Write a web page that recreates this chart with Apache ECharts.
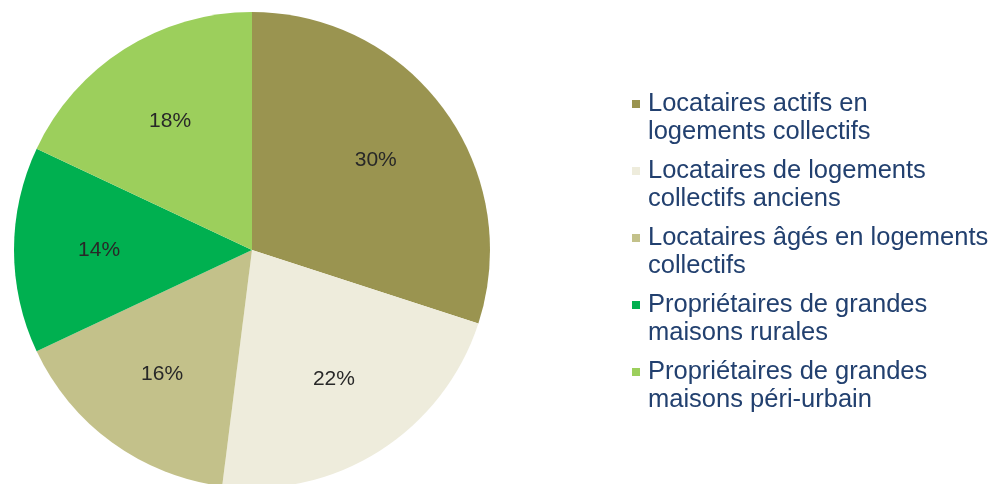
<!DOCTYPE html>
<html>
<head>
<meta charset="utf-8">
<script src="https://cdn.jsdelivr.net/npm/echarts@6/dist/echarts.min.js"></script>
<style>
  html, body { margin: 0; padding: 0; background: #ffffff; }
  #chart { width: 995px; height: 484px; }
</style>
</head>
<body>
<div id="chart"></div>
<script>
// Household typology shares (percent)
const categories = [
  'Locataires actifs en logements collectifs',
  'Locataires de logements collectifs anciens',
  'Locataires âgés en logements collectifs',
  'Propriétaires de grandes maisons rurales',
  'Propriétaires de grandes maisons péri-urbain'
];
const legendLines = [
  ['Locataires actifs en', 'logements collectifs'],
  ['Locataires de logements', 'collectifs anciens'],
  ['Locataires âgés en logements', 'collectifs'],
  ['Propriétaires de grandes', 'maisons rurales'],
  ['Propriétaires de grandes', 'maisons péri-urbain']
];
const shares = [30, 22, 16, 14, 18];
const sliceColors = ['#9a9450', '#eeecdc', '#c3c18a', '#00b050', '#9ccf5c'];

const FONT = '"Liberation Sans", Arial, sans-serif';
const R = 238;
const LINE_H = 28;

const pieData = categories.map((name, i) => ({
  name: name,
  value: shares[i],
  itemStyle: { color: sliceColors[i] }
}));

const chart = echarts.init(document.getElementById('chart'), null, { renderer: 'canvas' });
chart.setOption({
  animation: false,
  backgroundColor: '#ffffff',
  legend: {
    orient: 'vertical',
    left: 627,
    top: 57,
    itemWidth: 8,
    itemHeight: 8,
    itemGap: -17,
    icon: 'rect',
    selectedMode: false,
    data: categories,
    // a leading empty line keeps the marker level with the first text line
    formatter: function (name) {
      return '\n' + legendLines[categories.indexOf(name)].join('\n');
    },
    textStyle: {
      fontFamily: FONT,
      fontSize: 25.5,
      lineHeight: LINE_H,
      color: '#22406f',
      padding: [0, 0, 0, 3]
    }
  },
  series: [
    {
      type: 'pie',
      center: [252, 250],
      radius: [0, R],
      startAngle: 90,
      clockwise: true,
      silent: true,
      label: { show: false },
      labelLine: { show: false },
      data: pieData
    },
    {
      // label ring: places the percentage text at about 0.63 of the radius
      type: 'pie',
      center: [252, 250],
      radius: [R * 0.26, R],
      startAngle: 90,
      clockwise: true,
      silent: true,
      itemStyle: { color: 'rgba(0,0,0,0)' },
      label: {
        show: true,
        position: 'inside',
        formatter: '{c}%',
        fontFamily: FONT,
        fontSize: 21,
        color: '#282828'
      },
      labelLine: { show: false },
      data: shares.map((v, i) => ({ name: categories[i], value: v }))
    }
  ]
});
</script>
</body>
</html>
